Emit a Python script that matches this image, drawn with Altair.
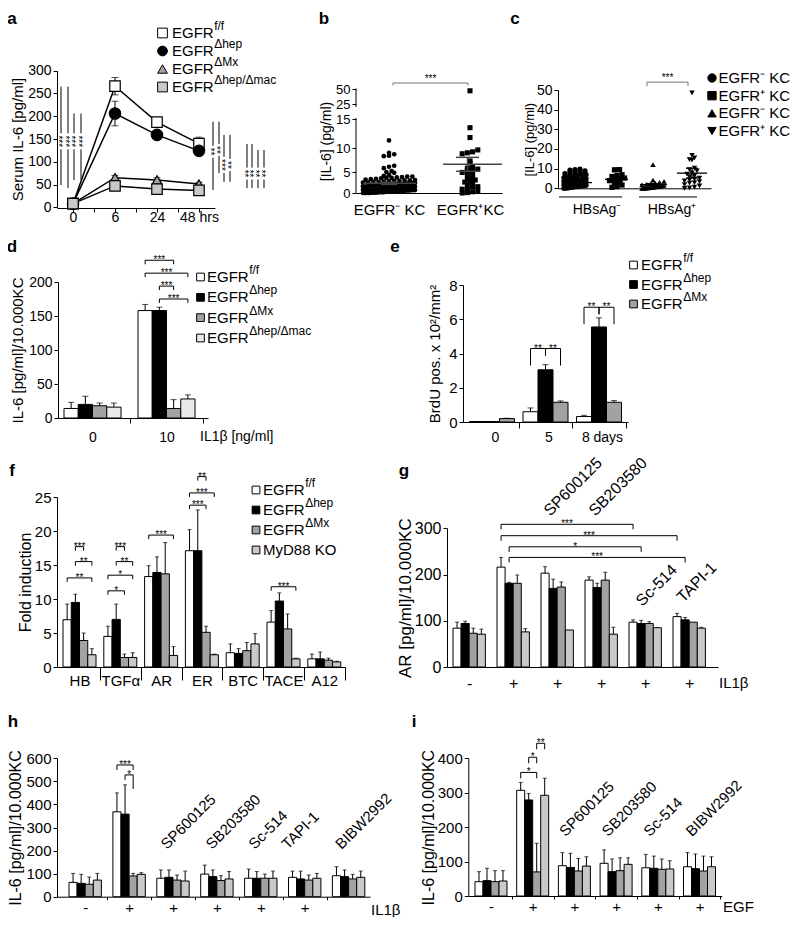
import altair as alt
import pandas as pd

FONT = "Liberation Sans"
W, H, M = 784, 909, 8

# ============================ DATA ============================
# (a) serum IL-6 [pg/ml] at 0, 6, 24, 48 h
a_times = ["0", "6", "24", "48 hrs"]
a_ff = [8, 266, 187, 140]
a_hep = [8, 206, 159, 124]
a_mx = [8, 65, 60, 51]
a_mac = [8, 47, 40, 37]
a_ff_err = [0, 19, 10, 14]
a_hep_err = [0, 27, 7, 8]
a_mx_err = [0, 5, 5, 4]
a_mac_err = [0, 7, 8, 5]
a_sig_stars = ["***", "***", "***", "***", "**", "**", "***", "**", "**", "**", "**", "**"]

geno_main = ["EGFR", "EGFR", "EGFR", "EGFR"]
geno_sup = ["f/f", "Δhep", "ΔMx", "Δhep/Δmac"]

# (b) [IL-6] (pg/ml) per patient
b_groups = ["EGFR⁻ KC", "EGFR⁺KC"]
b_neg = [11.3, 9.0, 8.7, 8.3, 8.4, 6.3, 6.1, 5.8, 5.0, 5.2, 4.8,
         4.3, 4.1, 3.9, 3.8, 3.7, 3.6, 3.5, 3.4, 3.3, 3.2, 3.1, 3.0, 3.0, 3.6, 3.9,
         2.9, 2.8, 2.7, 2.6, 2.6, 2.5, 2.4, 2.4, 2.3, 2.2, 2.2, 2.1, 2.0, 2.0, 2.9, 2.5,
         1.9, 1.9, 1.8, 1.8, 1.7, 1.7, 1.6, 1.6, 1.5, 1.5, 1.5, 1.4, 1.4, 1.3, 1.3, 1.2,
         1.2, 1.2, 1.1, 1.1, 1.0, 1.0, 1.0,
         0.9, 0.9, 0.9, 0.8, 0.8, 0.8, 0.7, 0.7, 0.7, 0.6, 0.6, 0.6, 0.5, 0.5, 0.5, 0.5,
         0.4, 0.4, 0.4, 0.4, 0.3, 0.3, 0.3, 0.3, 0.2, 0.2, 0.2, 0.2, 0.1, 0.1, 0.1, 0.1,
         0.0, 0.0, 0.0, 0.0, 0.0]
b_pos = [47, 13.5, 11.8, 9.6, 9.2, 9.0, 8.8, 7.3, 6.9, 6.0, 5.8, 5.6, 5.4, 5.3, 4.9, 4.5,
         4.2, 3.5, 3.3, 3.1, 2.9, 2.6, 2.3, 1.9, 1.5, 1.5, 0.9, 0.9, 0.6, 0.3, 0.1, 0.0]
b_mean = [2.3, 6.6]
b_sem = [0.25, 1.45]

# (c) by HBsAg status
c_groups = ["HBsAg⁻", "HBsAg⁺"]
c_legend = ["EGFR⁻ KC", "EGFR⁺ KC", "EGFR⁻ KC", "EGFR⁺ KC"]
c_neg_neg = [9.8, 9.5, 9.2, 8.8, 8.5, 8.1, 7.8, 7.4, 7.0, 6.8, 6.4, 6.0, 5.7, 5.4, 5.0, 4.7,
             4.4, 4.2, 4.1, 3.8, 3.6, 3.3, 3.1, 3.0, 2.8, 2.6, 2.5, 2.3, 2.0, 1.9, 1.8, 1.6,
             1.4, 1.3, 1.2, 1.0, 0.9, 0.8, 0.7, 0.5, 0.4, 0.2, 0.1, 0.0]
c_neg_pos = [9.5, 9.4, 6.9, 6.5, 6.0, 5.2, 4.8, 4.3, 3.9, 3.4, 2.8, 1.7, 0.9, 0.5]
c_pos_neg = [12.0, 4.2, 3.5, 3.0, 2.6, 2.3, 2.0, 1.8, 1.6, 1.4, 1.2, 1.1, 1.0, 0.9, 0.8, 0.7,
             0.6, 0.5, 0.4, 0.3, 0.2, 0.2, 0.1, 0.1, 0.0, 0.0]
c_pos_pos = [48.5, 16.7, 15.5, 14.6, 14.3, 10.3, 9.5, 8.9, 7.8, 7.2, 6.5, 6.0, 5.2, 4.8, 4.3,
             3.8, 3.4, 2.9, 2.6, 1.9, 1.2, 0.6, 0.2, 0.0]
c_mean = [2.9, 4.6, 1.9, 7.7]
c_sem = [0.4, 0.9, 0.5, 2.5]

# (d) IL-6 [pg/ml]/10.000KC
d_doses = ["0", "10"]
d_vals = [[14, 20, 18, 16], [158, 158, 14, 28]]
d_errs = [[9, 12, 4, 6], [9, 5, 13, 6]]
d_sig = [(1, 0, 1, 2, 232, "***"), (1, 0, 1, 3, 213, "***"), (1, 1, 1, 2, 194, "***"), (1, 1, 1, 3, 175, "***")]

# (e) BrdU pos. x 10^2/mm^2
e_days = ["0", "5", "8 days"]
e_vals = [[0.03, 0.03, 0.2], [0.6, 3.05, 1.15], [0.32, 5.55, 1.15]]
e_errs = [[0.0, 0.0, 0.02], [0.22, 0.3, 0.08], [0.07, 0.53, 0.1]]
e_sig = [(1, 0, 1, 1, 4.29, "**", 17, 7), (1, 1, 1, 2, 4.29, "**", 7, 17),
         (2, 0, 2, 1, 6.7, "**", 17, 7), (2, 1, 2, 2, 6.7, "**", 7, 17)]

# (f) fold induction
f_genes = ["HB", "TGFα", "AR", "ER", "BTC", "TACE", "A12"]
f_vals = [[6.95, 9.5, 3.9, 1.8], [4.5, 7.0, 1.4, 1.4], [13.3, 13.9, 13.7, 1.7], [17.1, 17.1, 5.1, 1.8],
          [2.1, 2.0, 2.4, 3.4], [6.6, 9.7, 5.6, 1.2], [1.2, 1.2, 1.0, 0.75]]
f_errs = [[2.3, 1.2, 1.1, 0.9], [1.5, 2.25, 0.5, 0.7], [1.6, 2.3, 4.6, 1.3], [3.1, 6.0, 0.9, 0.1],
          [1.3, 0.7, 1.2, 1.5], [1.7, 1.2, 2.2, 0.1], [0.7, 1.0, 0.3, 0.1]]
f_main = ["EGFR", "EGFR", "EGFR", "MyD88 KO"]
f_sup = ["f/f", "Δhep", "ΔMx", ""]
f_sig = [(0, 1, 0, 2, 17.7, "***"), (0, 1, 0, 3, 15.5, "**"), (0, 0, 0, 3, 13.1, "**"),
         (1, 1, 1, 2, 17.7, "***"), (1, 1, 1, 3, 15.5, "**"), (1, 0, 1, 3, 13.5, "*"), (1, 0, 1, 2, 11.2, "*"),
         (2, 0, 2, 3, 19.4, "***"), (3, 0, 3, 2, 23.8, "***"), (3, 0, 3, 3, 25.6, "***"), (3, 1, 3, 2, 28.0, "**"),
         (5, 0, 5, 3, 11.8, "***")]

# (g) AR [pg/ml]/10.000KC
g_treat = ["-", "+", "+", "+", "+", "+"]
g_inhib = ["", "", "SP600125", "SB203580", "Sc-514", "TAPI-1"]
g_vals = [[84, 94, 73, 71], [216, 181, 181, 76], [203, 170, 173, 80], [188, 172, 188, 71], [97, 94, 94, 85], [109, 102, 97, 84]]
g_errs = [[13, 5, 11, 11], [21, 2, 18, 7], [14, 20, 11, 0], [7, 9, 17, 15], [5, 7, 4, 0], [7, 5, 0, 2]]
g_sig = [(1, 0, 4, 0, 308.6, "***", 5), (1, 0, 5, 0, 284, "***", 5), (1, 1, 4, 1, 260, "*", 5), (1, 1, 5, 1, 237, "***", 5)]

# (h) IL-6, IL1beta stimulation
h_treat = ["-", "+", "+", "+", "+", "+", "+"]
h_inhib = ["", "", "SP600125", "SB203580", "Sc-514", "TAPI-1", "BIBW2992"]
h_vals = [[62, 58, 54, 72], [368, 358, 90, 97], [80, 84, 72, 68], [98, 87, 70, 77], [80, 80, 80, 80], [84, 77, 72, 80], [91, 87, 77, 84]]
h_errs = [[39, 39, 31, 29], [82, 127, 11, 7], [36, 32, 22, 43], [39, 29, 21, 32], [40, 29, 18, 31], [27, 34, 22, 21], [39, 29, 20, 27]]
h_sig = [(1, 0, 1, 2, 571, "***", 5, 5), (1, 1, 1, 2, 528, "*", 5, 14)]

# (i) IL-6, EGF stimulation
i_treat = ["-", "+", "+", "+", "+", "+"]
i_inhib = ["", "", "SP600125", "SB203580", "Sc-514", "BIBW2992"]
i_vals = [[41.6, 44.6, 41.6, 43.6], [307, 279, 70, 292.5], [88, 83, 72.6, 87], [95, 70.7, 73.6, 92], [82, 80.4, 77.5, 78.5], [85, 79.4, 72.6, 85]]
i_errs = [[29, 36, 32, 30], [23, 19, 83, 49.5], [38, 41, 36.4, 27], [39, 37, 37.4, 19], [39, 35.6, 30, 24], [41, 42.6, 43.4, 29]]
i_sig = [(1, 0, 1, 2, 359, "*", 6), (1, 1, 1, 2, 403, "*", 6), (1, 2, 1, 3, 443.6, "**", 6)]

# ============================ LAYOUT ============================
WHITE, BLACK, GRAY, DOT, DOT_L = "#ffffff", "#000000", "#a2a2a2", "#c9c9c9", "#e9e9e9"
STAR_FS = 10


def X(p):
    return p - M


def Y(p):
    return p - M


def lin(dom, r0, r1):
    return alt.Scale(domain=dom, range=[r0, r1], nice=False, zero=False)


def ax_x(y_px, **kw):
    d = dict(orient="bottom", offset=Y(y_px) - H, title=None, grid=False, minExtent=0)
    d.update(kw)
    return alt.Axis(**d)


def ax_y(x_px, **kw):
    d = dict(orient="left", offset=-X(x_px), grid=False, minExtent=0, tickSize=4, labelPadding=2)
    d.update(kw)
    return alt.Axis(**d)


def swarm(values, center, hw, binw, step):
    bins = {}
    for v in sorted(values):
        bins.setdefault(int(v // binw), []).append(v)
    out = []
    for k in sorted(bins):
        vs = bins[k]
        n = len(vs)
        sp = step if n < 2 else min(step, 2.0 * hw / (n - 1))
        for j, v in enumerate(vs):
            out.append((center + (j - (n - 1) / 2.0) * sp, v))
    return out


def bracket_layers(rows, xs, ys, fs=STAR_FS, dy=3, color="black"):
    df = pd.DataFrame(rows)
    df["xm"] = (df["xa"] + df["xb"]) / 2
    legs = pd.DataFrame([{"x": r["xa"], "y": r["y"], "y2": r["ya"]} for r in rows] +
                        [{"x": r["xb"], "y": r["y"], "y2": r["yb"]} for r in rows])
    hx = alt.Chart(df).mark_rule(color=color, strokeWidth=1).encode(
        x=alt.X("xa:Q", scale=xs, axis=None), x2="xb:Q", y=alt.Y("y:Q", scale=ys, axis=None))
    lg = alt.Chart(legs).mark_rule(color=color, strokeWidth=1).encode(
        x=alt.X("x:Q", scale=xs, axis=None), y=alt.Y("y:Q", scale=ys, axis=None), y2="y2:Q")
    st = alt.Chart(df).mark_text(font=FONT, fontSize=fs, baseline="alphabetic", dy=dy, color="black").encode(
        x=alt.X("xm:Q", scale=xs, axis=None), y=alt.Y("y:Q", scale=ys, axis=None), text="t:N")
    return [hx, lg, st]


def bar_panel(vals, errs, fills, xlabels, ytitle, yticks, ydom, sig, geo, rot=None):
    axl, axr, g0, gs, bw = geo["axl"], geo["axr"], geo["g0"], geo["gs"], geo["bw"]
    yb, yt = geo["ybot"], geo["ytop"]
    ns, ng = len(fills), len(vals)
    K = gs / bw
    off = (g0 - axl) / bw

    def us(g, s):
        return off + g * K + s

    def uc(g):
        return off + g * K + ns / 2.0

    ppu = (yb - yt) / float(ydom[1] - ydom[0])
    xs = lin([0, (axr - axl) / bw], X(axl), X(axr))
    ys = lin(ydom, Y(yb), Y(yt))
    rows = []
    for g in range(ng):
        for s in range(ns):
            v, e = vals[g][s], errs[g][s]
            u = us(g, s)
            rows.append({"x0": u, "x1": u + 1, "xc": u + 0.5, "v": v, "z": 0, "hi": v + e, "e": e, "fill": fills[s]})
    df = pd.DataFrame(rows)
    bnds = [uc(g) + K / 2 for g in range(ng)]
    arr = "[" + ",".join("'%s'" % t for t in xlabels) + "]"
    xaxis = ax_x(yb, values=bnds,
                 labelExpr="%s[round((datum.value - %.5f) / %.5f)]" % (arr, bnds[0], K),
                 labelOffset=-gs / 2.0 + geo.get("lshift", 0), tickSize=geo["tick"],
                 labelBaseline="middle", labelPadding=geo["lab_y"] - yb - geo["tick"],
                 labelFontSize=geo["xfs"])
    yaxis = ax_y(axl, values=yticks, title=ytitle, titleFontSize=geo["tfs"],
                 titlePadding=geo["tpad"], labelFontSize=geo["yfs"])
    bars = alt.Chart(df).mark_bar(stroke="black", strokeWidth=1).encode(
        x=alt.X("x0:Q", scale=xs, axis=xaxis), x2="x1:Q",
        y=alt.Y("v:Q", scale=ys, axis=yaxis), y2="z:Q",
        fill=alt.Fill("fill:N", scale=None))
    de = df[df["e"] > 0]
    err = alt.Chart(de).mark_rule(color="black", strokeWidth=1).encode(
        x=alt.X("xc:Q", scale=xs, axis=None), y=alt.Y("v:Q", scale=ys, axis=None), y2="hi:Q")
    cap = alt.Chart(de).mark_tick(color="black", orient="horizontal", size=geo["cap"], thickness=1).encode(
        x=alt.X("xc:Q", scale=xs, axis=None), y=alt.Y("hi:Q", scale=ys, axis=None))
    brs = []
    for b in sig:
        ga, sa, gb, sb, yv, t = b[:6]
        la = b[6] if len(b) > 6 else 4
        lb = b[7] if len(b) > 7 else la
        brs.append({"xa": us(ga, sa) + 0.5, "xb": us(gb, sb) + 0.5, "y": yv,
                    "ya": yv - la / ppu, "yb": yv - lb / ppu, "t": t})
    layers = [bars, err, cap] + bracket_layers(brs, xs, ys)
    if rot:
        rdf = pd.DataFrame([{"x": uc(g) + dx / bw, "y": yv, "t": t} for (g, t, yv, dx) in rot])
        layers.append(alt.Chart(rdf).mark_text(font=FONT, fontSize=geo["rfs"], angle=315, align="left",
                                                baseline="alphabetic", color="black").encode(
            x=alt.X("x:Q", scale=xs, axis=None), y=alt.Y("y:Q", scale=ys, axis=None), text="t:N"))
    return layers


def legend(mains, sups, shapes, fills, sym_x, txt_x, y0, y1, size, fs=15, sfs=12, raise_px=7):
    n = len(mains)
    rows = []
    for k in range(n):
        w = 2.778 * fs if mains[k] == "EGFR" else 0
        rows.append({"i": k, "m": mains[k], "s": sups[k], "shape": shapes[k], "fill": fills[k],
                     "sx": X(txt_x) + w + 0.5})
    df = pd.DataFrame(rows)
    ys = lin([0, n - 1], Y(y0), Y(y1))
    yenc = alt.Y("i:Q", scale=ys, axis=None)
    sym = alt.Chart(df).mark_point(filled=True, stroke="black", strokeWidth=1, opacity=1, size=size).encode(
        x=alt.value(X(sym_x)), y=yenc, shape=alt.Shape("shape:N", scale=None), fill=alt.Fill("fill:N", scale=None))
    main = alt.Chart(df).mark_text(font=FONT, fontSize=fs, align="left", baseline="middle", color="black").encode(
        x=alt.value(X(txt_x)), y=yenc, text="m:N")
    sup = alt.Chart(df).mark_text(font=FONT, fontSize=sfs, align="left", baseline="middle", dy=-raise_px,
                                  color="black").encode(
        x=alt.X("sx:Q", scale=None), y=yenc, text="s:N")
    return [sym, main, sup]


def free_text(rows, align="left", weight="normal", baseline="middle"):
    df = pd.DataFrame([{"t": t, "x": X(px), "y": Y(py), "fs": fs} for (t, px, py, fs) in rows])
    return alt.Chart(df).mark_text(font=FONT, align=align, baseline=baseline, fontWeight=weight,
                                   color="black").encode(
        x=alt.X("x:Q", scale=None), y=alt.Y("y:Q", scale=None), text="t:N",
        size=alt.Size("fs:Q", scale=None))


# ---------------- panel a ----------------
def A_YS():
    return lin([0, 300], Y(207.3), Y(70.7))


def panel_a():
    xs = lin([-0.381, 3.381], X(57), X(215))
    ys = A_YS()
    series = [(a_ff, a_ff_err, "square", WHITE, 110), (a_hep, a_hep_err, "circle", BLACK, 130),
              (a_mx, a_mx_err, "triangle-up", GRAY, 95), (a_mac, a_mac_err, "square", DOT, 110)]
    rows = []
    for si, (vals, errs, shp, fil, sz) in enumerate(series):
        for ti, (v, e) in enumerate(zip(vals, errs)):
            rows.append({"t": ti, "s": si, "v": v, "lo": v - e, "hi": v + e, "e": e,
                         "shape": shp, "fill": fil, "sz": sz})
    df = pd.DataFrame(rows)
    arr = "[" + ",".join("'%s'" % t for t in a_times) + "]"
    xaxis = ax_x(208, values=[0, 0.5, 1, 1.5, 2, 2.5, 3],
                 labelExpr="datum.value %% 1 == 0 ? %s[datum.value] : ''" % arr,
                 tickSize=4, labelBaseline="middle", labelPadding=5, labelFontSize=14)
    yaxis = ax_y(57, values=list(range(0, 301, 50)), title="Serum IL-6 [pg/ml]", titleFontSize=15,
                 titlePadding=2, labelFontSize=14)
    lines = alt.Chart(df).mark_line(color="black", strokeWidth=1.5).encode(
        x=alt.X("t:Q", scale=xs, axis=xaxis), y=alt.Y("v:Q", scale=ys, axis=yaxis), detail="s:N")
    de = df[df["e"] > 0]
    err = alt.Chart(de).mark_rule(color="black", strokeWidth=1).encode(
        x=alt.X("t:Q", scale=xs, axis=None), y=alt.Y("lo:Q", scale=ys, axis=None), y2="hi:Q")
    caps_hi = alt.Chart(de).mark_tick(color="black", orient="horizontal", size=7, thickness=1).encode(
        x=alt.X("t:Q", scale=xs, axis=None), y=alt.Y("hi:Q", scale=ys, axis=None))
    caps_lo = alt.Chart(de).mark_tick(color="black", orient="horizontal", size=7, thickness=1).encode(
        x=alt.X("t:Q", scale=xs, axis=None), y=alt.Y("lo:Q", scale=ys, axis=None))
    pts = alt.Chart(df).mark_point(filled=True, stroke="black", strokeWidth=1.2, opacity=1).encode(
        x=alt.X("t:Q", scale=xs, axis=None), y=alt.Y("v:Q", scale=ys, axis=None),
        shape=alt.Shape("shape:N", scale=None), fill=alt.Fill("fill:N", scale=None),
        size=alt.Size("sz:Q", scale=None))
    return [lines, err, caps_hi, caps_lo, pts]


A_SIG_GEO = [(61, 265, 49, 145), (68, 265, 42, 145), (74, 206, 60, 145), (81, 206, 60, 145),
             (213, 188, 38, 122), (219, 188, 75, 126), (224, 159, 56, 93), (230, 159, 56, 93),
             (247, 139, 42, 74), (252, 139, 42, 74), (258, 126, 42, 74), (264, 126, 42, 74)]


def panel_a_sig():
    ppu = (207.3 - 70.7) / 300.0
    segs, stars = [], []
    for (xp, top, bot, sc), t in zip(A_SIG_GEO, a_sig_stars):
        gap = (len(t) * 4.0 / 2 + 2) / ppu
        segs.append({"x": X(xp), "a": top, "b": sc + gap})
        segs.append({"x": X(xp), "a": sc - gap, "b": bot})
        stars.append({"x": X(xp), "y": sc, "t": t})
    r = alt.Chart(pd.DataFrame(segs)).mark_rule(color="black", strokeWidth=1).encode(
        x=alt.X("x:Q", scale=None), y=alt.Y("a:Q", scale=A_YS(), axis=None), y2="b:Q")
    s = alt.Chart(pd.DataFrame(stars)).mark_text(font=FONT, fontSize=STAR_FS, angle=90, align="center",
                                                 baseline="middle", dy=3, color="black").encode(
        x=alt.X("x:Q", scale=None), y=alt.Y("y:Q", scale=A_YS(), axis=None), text="t:N")
    return [r, s]


# ---------------- panel b ----------------
B_X = [33, 114]


def panel_b():
    xs = lin([0, 146], X(356), X(502))
    ys = alt.Scale(domain=[0, 5, 10, 15, 25, 50], range=[Y(193), Y(172), Y(148), Y(119), Y(104), Y(89)],
                   nice=False, zero=False)
    pts = []
    for c, vals, shp, sz in [(B_X[0], b_neg, "circle", 22), (B_X[1], b_pos, "square", 26)]:
        for x, v in swarm(vals, c, 26, 0.8, 5.2):
            pts.append({"x": x, "v": v, "shape": shp, "sz": sz})
    dp = pd.DataFrame(pts)
    yaxis = ax_y(356, values=[0, 5, 10, 15, 25, 50], title="[IL-6] (pg/ml)", titleFontSize=14,
                 titlePadding=2, labelFontSize=13, domain=False)
    xaxis = ax_x(193, values=B_X, labelExpr="datum.value < 70 ? '%s' : '%s'" % tuple(b_groups),
                 tickSize=0, labelBaseline="middle", labelPadding=16, labelFontSize=15)
    points = alt.Chart(dp).mark_point(filled=True, color="black", opacity=1).encode(
        x=alt.X("x:Q", scale=xs, axis=xaxis), y=alt.Y("v:Q", scale=ys, axis=yaxis),
        shape=alt.Shape("shape:N", scale=None), size=alt.Size("sz:Q", scale=None))
    axl = alt.Chart(pd.DataFrame([{"x": 0, "a": 0, "b": 15.7}, {"x": 0, "a": 23, "b": 51}])).mark_rule(
        color="black", strokeWidth=1).encode(
        x=alt.X("x:Q", scale=xs, axis=None), y=alt.Y("a:Q", scale=ys, axis=None), y2="b:Q")
    mean_x = [(7, 60), (87, 146)]
    sem_x = [(33, 8), (111.5, 11.5)]
    mrows = [{"xa": mean_x[k][0], "xb": mean_x[k][1], "y": b_mean[k]} for k in range(2)]
    srows = [{"x": sem_x[k][0], "lo": b_mean[k] - b_sem[k], "hi": b_mean[k] + b_sem[k]} for k in range(2)]
    crows = []
    for k in range(2):
        for yv in (b_mean[k] - b_sem[k], b_mean[k] + b_sem[k]):
            crows.append({"xa": sem_x[k][0] - sem_x[k][1], "xb": sem_x[k][0] + sem_x[k][1], "y": yv})
    mean = alt.Chart(pd.DataFrame(mrows + crows)).mark_rule(color="#444444", strokeWidth=1.5).encode(
        x=alt.X("xa:Q", scale=xs, axis=None), x2="xb:Q", y=alt.Y("y:Q", scale=ys, axis=None))
    sem = alt.Chart(pd.DataFrame(srows)).mark_rule(color="#444444", strokeWidth=1.5).encode(
        x=alt.X("x:Q", scale=xs, axis=None), y=alt.Y("lo:Q", scale=ys, axis=None), y2="hi:Q")
    br = bracket_layers([{"xa": 37, "xb": 112, "y": 60, "ya": 56, "yb": 56, "t": "***"}], xs, ys,
                        dy=-1, color="#777777")
    return [points, axl, mean, sem] + br


# ---------------- panel c ----------------
C_X = [17, 59, 95, 134]


def panel_c():
    xs = lin([0, 153], X(558), X(711))
    ys = lin([0, 50], Y(188.3), Y(90))
    groups = [(c_neg_neg, "circle", 28), (c_neg_pos, "square", 28), (c_pos_neg, "triangle-up", 30),
              (c_pos_pos, "triangle-down", 30)]
    pts = []
    for k, (vals, shp, sz) in enumerate(groups):
        for x, v in swarm(vals, C_X[k], 11, 1.8, 5.0):
            pts.append({"x": x, "v": v, "shape": shp, "sz": sz})
    dp = pd.DataFrame(pts)
    yaxis = ax_y(558, values=[0, 10, 20, 30, 40, 50], title="[IL-6] (pg/ml)", titleFontSize=13,
                 titlePadding=0, labelFontSize=14)
    xaxis = ax_x(188.3, labels=False, ticks=False)
    points = alt.Chart(dp).mark_point(filled=True, color="black", opacity=1).encode(
        x=alt.X("x:Q", scale=xs, axis=xaxis), y=alt.Y("v:Q", scale=ys, axis=yaxis),
        shape=alt.Shape("shape:N", scale=None), size=alt.Size("sz:Q", scale=None))
    mean_x = [(4, 34), (47, 70), (82, 109), (119, 149)]
    mrows, srows = [], []
    for k in range(4):
        mrows.append({"xa": mean_x[k][0], "xb": mean_x[k][1], "y": c_mean[k]})
        for yv in (c_mean[k] - c_sem[k], c_mean[k] + c_sem[k]):
            mrows.append({"xa": C_X[k] - 6, "xb": C_X[k] + 6, "y": yv})
        srows.append({"x": C_X[k], "lo": c_mean[k] - c_sem[k], "hi": c_mean[k] + c_sem[k]})
    mean = alt.Chart(pd.DataFrame(mrows)).mark_rule(color="black", strokeWidth=1.3).encode(
        x=alt.X("xa:Q", scale=xs, axis=None), x2="xb:Q", y=alt.Y("y:Q", scale=ys, axis=None))
    sem = alt.Chart(pd.DataFrame(srows)).mark_rule(color="black", strokeWidth=1.3).encode(
        x=alt.X("x:Q", scale=xs, axis=None), y=alt.Y("lo:Q", scale=ys, axis=None), y2="hi:Q")
    under = alt.Chart(pd.DataFrame([{"xa": 1, "xb": 64, "y": -4.4}, {"xa": 81, "xb": 139, "y": -4.4}])).mark_rule(
        color="black", strokeWidth=1).encode(
        x=alt.X("xa:Q", scale=xs, axis=None), x2="xb:Q", y=alt.Y("y:Q", scale=ys, axis=None))
    glab = alt.Chart(pd.DataFrame([{"x": 39, "y": -11.2, "t": c_groups[0]}, {"x": 114, "y": -11.2, "t": c_groups[1]}])).mark_text(
        font=FONT, fontSize=14, baseline="middle", color="black").encode(
        x=alt.X("x:Q", scale=xs, axis=None), y=alt.Y("y:Q", scale=ys, axis=None), text="t:N")
    br = bracket_layers([{"xa": 89, "xb": 130, "y": 54, "ya": 52, "yb": 52, "t": "***"}], xs, ys,
                        dy=-1, color="#777777")
    return [points, mean, sem, under, glab] + br


# ---------------- bar panels geometry ----------------
GEO_D = dict(axl=58, axr=208, g0=64, gs=74, bw=14.25, ybot=418, ytop=282, tick=5, lab_y=437,
             xfs=14, yfs=14, tfs=15, tpad=3, cap=6)
GEO_E = dict(axl=463, axr=628, g0=469.5, gs=53.5, bw=15, ybot=422, ytop=285, tick=6, lab_y=437,
             xfs=14, yfs=15, tfs=15, tpad=6, cap=6, lshift=3)
GEO_F = dict(axl=57, axr=345, g0=63, gs=40.8, bw=8.25, ybot=667, ytop=497, tick=13, lab_y=680,
             xfs=15, yfs=15, tfs=16, tpad=1, cap=4)
GEO_G = dict(axl=447, axr=718, g0=453, gs=44, bw=8.1, ybot=667, ytop=528.3, tick=0, lab_y=683,
             xfs=16, yfs=16, tfs=17, tpad=0, cap=4, rfs=16)
GEO_H = dict(axl=57, axr=370, g0=69, gs=43.9, bw=8.1, ybot=896.7, ytop=758.3, tick=3, lab_y=907,
             xfs=15, yfs=15, tfs=16, tpad=2, cap=4, rfs=15)
GEO_I = dict(axl=468.3, axr=721.7, g0=475, gs=41.7, bw=8.0, ybot=896, ytop=758.3, tick=3, lab_y=906,
             xfs=15, yfs=15, tfs=16, tpad=0.5, cap=4, rfs=15)

G_ROT = [(2, 325, -7), (3, 325, -6), (4, 130, -3), (5, 138, -6)]
H_ROT = [(2, 202, -6), (3, 202, -5), (4, 202, -6), (5, 202, -17), (6, 202, -7)]
I_ROT = [(2, 171, -9), (3, 171, -8), (4, 171, -8), (5, 171, -7.5)]

layers = []
layers += panel_a()
layers += panel_a_sig()
layers += legend(geno_main, geno_sup, ["square", "circle", "triangle-up", "square"], [WHITE, BLACK, GRAY, DOT],
                 162.5, 172, 33, 87, 95)
layers += panel_b()
layers += panel_c()
layers += legend(c_legend, ["", "", "", ""], ["circle", "square", "triangle-up", "triangle-down"],
                 [BLACK] * 4, 712, 718.5, 78, 131, 70)
layers += bar_panel(d_vals, d_errs, [WHITE, BLACK, GRAY, DOT_L], d_doses, "IL-6 [pg/ml]/10.000KC",
                    [0, 50, 100, 150, 200], [0, 200], d_sig, GEO_D)
layers += legend(geno_main, geno_sup, ["square"] * 4, [WHITE, BLACK, GRAY, DOT_L], 200.5, 207, 277, 338, 60)
layers += bar_panel(e_vals, e_errs, [WHITE, BLACK, GRAY], e_days, "BrdU pos. x 10²/mm²",
                    [0, 2, 4, 6, 8], [0, 8], e_sig, GEO_E)
layers += legend(geno_main[:3], geno_sup[:3], ["square"] * 3, [WHITE, BLACK, GRAY], 633.5, 641, 265, 304, 60)
layers += bar_panel(f_vals, f_errs, [WHITE, BLACK, GRAY, DOT], f_genes, "Fold induction",
                    [0, 5, 10, 15, 20, 25], [0, 25], f_sig, GEO_F)
layers += legend(f_main, f_sup, ["square"] * 4, [WHITE, BLACK, GRAY, DOT], 256, 263, 490, 550, 60)
layers += bar_panel(g_vals, g_errs, [WHITE, BLACK, GRAY, DOT], g_treat, "AR [pg/ml]/10.000KC",
                    [0, 100, 200, 300], [0, 300], g_sig, GEO_G,
                    rot=[(g, g_inhib[g], yv, dx) for (g, yv, dx) in G_ROT])
layers += bar_panel(h_vals, h_errs, [WHITE, BLACK, GRAY, DOT], h_treat, "IL-6 [pg/ml]/10.000KC",
                    [0, 100, 200, 300, 400, 500, 600], [0, 600], h_sig, GEO_H,
                    rot=[(g, h_inhib[g], yv, dx) for (g, yv, dx) in H_ROT])
layers += bar_panel(i_vals, i_errs, [WHITE, BLACK, GRAY, DOT], i_treat, "IL-6 [pg/ml]/10.000KC",
                    [0, 100, 200, 300, 400], [0, 400], i_sig, GEO_I,
                    rot=[(g, i_inhib[g], yv, dx) for (g, yv, dx) in I_ROT])
layers.append(free_text([("a", 12, 19, 17), ("b", 324, 19, 17), ("c", 515, 19, 17), ("d", 12, 247, 17),
                         ("e", 395, 247, 17), ("f", 12, 471, 17), ("g", 404, 471, 17), ("h", 13, 722, 17),
                         ("i", 414, 722, 17)], align="center", weight="bold"))
layers.append(free_text([("IL1β [ng/ml]", 200, 437, 14), ("IL1β", 719, 683, 15), ("IL1β", 371, 910, 15),
                         ("EGF", 723, 907, 15)]))

chart = alt.layer(*layers).resolve_scale(x="independent", y="independent").properties(
    width=W, height=H, padding=0, autosize=alt.AutoSizeParams(type="none")
).configure_view(stroke=None).configure_axis(
    grid=False, labelFlush=False, labelOverlap=False, domainColor="black", tickColor="black",
    labelColor="black", titleColor="black", labelFont=FONT, titleFont=FONT, titleFontWeight="normal",
    domainWidth=1, tickWidth=1)

chart.save("out.html", embed_options={"renderer": "svg", "actions": False})
